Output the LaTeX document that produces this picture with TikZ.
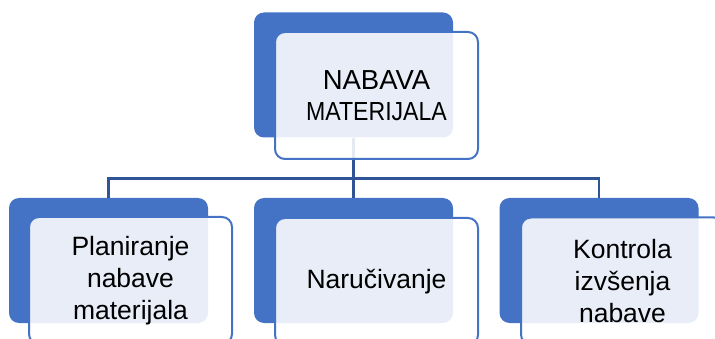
\documentclass[tikz,border=0pt]{standalone}
\usepackage{fontspec}
\setmainfont{Liberation Sans}
\definecolor{boxblue}{RGB}{68,114,196}
\definecolor{linkblue}{RGB}{47,85,151}
\begin{document}
\begin{tikzpicture}[x=1pt,y=-1pt,
  back/.style={rectangle,rounded corners=10pt,fill=boxblue,draw=none,
    minimum width=199pt,minimum height=125pt,inner sep=0pt},
  front/.style={rectangle,rounded corners=10pt,draw=boxblue,line width=2pt,
    fill=white,fill opacity=0.88,text opacity=1,
    minimum width=203pt,minimum height=127pt,inner sep=0pt,align=center,
    font=\fontsize{26.5}{32}\selectfont},
  link/.style={draw=linkblue,line width=2.5pt}]
\useasboundingbox (0,0) rectangle (715,339);
\clip (0,0) rectangle (715,339);
% back boxes
\node[back] (topB) at (353.5,75) {};
\node[back] (leftB) at (108.5,260.5) {};
\node[back] (midB) at (353.5,260.5) {};
\node[back] (rightB) at (599,260.5) {};
% connectors
\coordinate (bus) at (353.5,178.5);
\draw[link] (topB.south) -- (bus);
\draw[link] (bus) -| (leftB.north);
\draw[link] (bus) -- (midB.north);
\draw[link] (bus) -| (rightB.north);
% front boxes
\node[front,font=\fontsize{27.5}{31}\selectfont] (topF) at (376.5,95.5)
  {NABAVA\\\scalebox{0.84}[0.95]{MATERIJALA}};
\node[front] (leftF) at (130.5,280.5) {Planiranje\\nabave\\materijala};
\node[front] (midF) at (376.5,281.5) {Naručivanje};
\node[front] (rightF) at (622.5,281) {Kontrola\\izvšenja\\nabave};
\end{tikzpicture}
\end{document}
